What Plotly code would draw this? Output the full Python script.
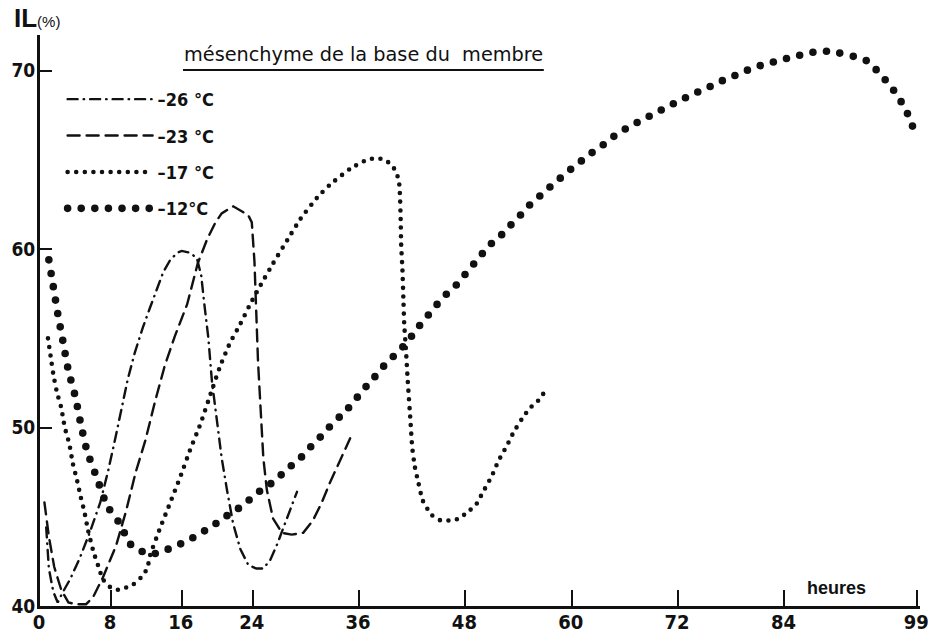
import plotly.graph_objects as go

# ---- data (hours, IL %) ----
hours_26 = [0.7, 1.0, 1.5, 2.0, 2.6, 3.4, 4.5, 5.6, 6.8, 7.7, 8.5, 9.3, 9.9, 10.7, 11.6, 12.4, 13.2, 13.9,
            14.7, 15.5, 16.0, 16.9, 17.7, 18.2, 18.5, 19.0, 19.4, 20.0, 20.5, 21.1, 21.8, 22.6, 23.5, 24.4,
            25.2, 26.0, 26.8, 27.4, 28.2, 29.0]
il_26 = [44.4, 42.1, 40.8, 40.2, 40.8, 41.5, 42.7, 44.1, 45.8, 47.6, 49.4, 51.2, 52.7, 54.2, 55.6, 56.7, 57.8,
         58.7, 59.4, 59.8, 59.9, 59.8, 59.5, 58.5, 57.1, 55.0, 52.6, 50.2, 48.3, 46.5, 44.6, 43.2, 42.3, 42.1,
         42.1, 42.6, 43.5, 44.3, 45.3, 46.4]

hours_23 = [0.5, 1.0, 1.6, 2.4, 3.2, 4.0, 5.2, 6.0, 7.1, 8.6, 9.7, 10.8, 11.9, 13.0, 14.1, 15.2, 16.6, 17.8,
            18.9, 19.8, 20.5, 21.8, 23.5, 23.9, 24.2, 24.4, 24.6, 24.9, 25.2, 25.6, 26.3, 27.3, 28.4, 29.7,
            30.8, 31.8, 32.7, 33.9, 35.0]
il_23 = [45.8, 43.9, 42.2, 40.9, 40.2, 40.1, 40.1, 40.5, 41.6, 43.4, 45.3, 47.5, 49.3, 51.5, 53.5, 55.1, 56.9,
         59.2, 60.6, 61.5, 62.0, 62.4, 61.9, 61.5, 59.3, 56.5, 53.7, 51.0, 48.3, 46.5, 44.9, 44.1, 44.0, 44.1,
         44.8, 45.8, 46.9, 48.2, 49.4]

hours_17 = [0.9, 1.2, 1.5, 1.9, 2.4, 2.8, 3.3, 3.7, 4.2, 4.6, 5.0, 5.4, 6.0, 6.6, 7.1, 7.8, 8.6, 9.5, 10.5,
            11.4, 12.1, 12.4, 13.5, 14.7, 15.8, 16.9, 18.1, 19.4, 20.3, 21.4, 22.6, 23.7, 24.8, 26.3, 27.9,
            29.4, 31.3, 32.7, 35.0, 36.9, 38.0, 38.9, 39.7, 40.2, 40.5, 40.6, 40.7, 40.75, 40.9, 41.0, 41.1,
            41.3, 41.5, 41.8, 42.0, 42.3, 42.7, 43.2, 44.2, 45.2, 46.2, 47.3, 48.3, 49.1, 50.0, 51.0, 51.7,
            52.7, 53.4, 54.4, 55.3, 56.2, 56.8]
il_17 = [55.0, 54.0, 53.0, 52.0, 51.1, 50.0, 49.1, 48.0, 47.0, 46.1, 45.3, 44.3, 43.1, 42.2, 41.5, 41.1, 40.9,
         41.0, 41.2, 41.6, 42.1, 42.8, 44.3, 45.8, 47.2, 48.7, 50.2, 52.1, 53.4, 54.7, 55.8, 56.9, 57.9, 59.2,
         60.5, 61.7, 62.9, 63.6, 64.5, 65.0, 65.1, 65.0, 64.7, 64.3, 63.8, 63.2, 61.7, 60.3, 58.8, 57.3, 55.8,
         54.3, 52.6, 50.4, 48.9, 47.8, 46.9, 45.9, 45.1, 44.8, 44.8, 44.9, 45.3, 45.6, 46.4, 47.3, 48.1, 49.0,
         49.7, 50.5, 51.1, 51.5, 51.9]

hours_12 = [1.0, 1.5, 2.0, 2.6, 3.2, 4.0, 4.6, 5.3, 6.4, 7.6, 9.3, 9.9, 11.3, 12.6, 14.0, 15.5, 16.8, 18.2,
            19.5, 20.9, 22.2, 23.5, 24.7, 25.9, 27.1, 28.2, 29.4, 30.5, 31.5, 32.6, 33.8, 34.8, 35.8, 36.8,
            37.7, 38.7, 39.7, 40.9, 41.9, 42.8, 43.8, 44.8, 45.9, 47.0, 48.0, 49.0, 50.0, 51.1, 52.3, 53.4,
            54.4, 55.5, 56.7, 57.8, 59.0, 60.2, 61.5, 62.8, 64.0, 65.2, 66.7, 68.1, 69.4, 70.8, 72.2, 73.6,
            74.8, 76.3, 77.8, 79.2, 80.7, 82.1, 83.6, 85.2, 86.8, 88.4, 90.1, 91.8, 93.5, 94.8, 95.9, 97.0,
            97.7, 98.3, 98.8]
il_12 = [59.4, 57.9, 56.4, 54.8, 53.2, 51.7, 50.2, 48.7, 47.2, 45.6, 44.4, 43.6, 43.1, 42.9, 43.1, 43.4, 43.7,
         44.1, 44.5, 45.0, 45.4, 45.9, 46.4, 46.8, 47.3, 47.8, 48.3, 48.9, 49.4, 50.0, 50.6, 51.1, 51.7, 52.3,
         52.8, 53.4, 53.9, 54.5, 55.1, 55.7, 56.3, 56.9, 57.5, 58.0, 58.6, 59.2, 59.8, 60.4, 60.9, 61.5, 62.0,
         62.6, 63.1, 63.6, 64.1, 64.6, 65.1, 65.6, 66.0, 66.5, 66.9, 67.3, 67.6, 68.0, 68.3, 68.7, 68.9, 69.3,
         69.6, 69.9, 70.2, 70.4, 70.6, 70.8, 71.0, 71.1, 71.0, 70.8, 70.5, 69.8, 69.2, 68.4, 67.8, 67.1, 66.4]

series_labels = ["–26 °C", "–23 °C", "–17 °C", "–12°C"]
x_ticks = [0, 8, 16, 24, 36, 48, 60, 72, 84, 99]
y_ticks = [40, 50, 60, 70]

INK = "#111111"
NARROW = "DejaVu Sans Condensed, Liberation Sans Narrow, Arial Narrow, Liberation Sans, sans-serif"

series = [
    (hours_26, il_26, dict(width=2.4, dash="10px,6px,0.5px,6px"), "linear"),
    (hours_23, il_23, dict(width=2.4, dash="12px,7px"), "linear"),
    (hours_17, il_17, dict(width=4.6, dash="0px,8.6px"), "spline"),
    (hours_12, il_12, dict(width=7.6, dash="0px,13.6px"), "spline"),
]

fig = go.Figure()
for i, ((xs, ys, ln, shape), name) in enumerate(zip(series, series_labels)):
    fig.add_trace(go.Scatter(
        x=xs, y=ys, mode="lines", name=name, legendgroup=f"g{i}",
        line=dict(color=INK, shape=shape, smoothing=0.6 if shape == "spline" else None, **ln),
        cliponaxis=False, hoverinfo="skip",
    ))

fig.update_layout(
    width=928, height=640,
    margin=dict(l=40, r=8, t=35, b=34, autoexpand=False),
    paper_bgcolor="white", plot_bgcolor="white",
    xaxis=dict(range=[0, 99.3], tickvals=x_ticks, ticktext=[str(t) for t in x_ticks],
               ticks="inside", ticklen=16, tickwidth=2, tickcolor=INK, automargin=False,
               ticklabeloverflow="allow", ticklabelstandoff=-4, ticklabelshift=-1,
               showline=True, linewidth=3, linecolor=INK, showgrid=False, zeroline=False,
               tickfont=dict(family=NARROW, size=20, color=INK, weight="bold")),
    yaxis=dict(range=[40, 72], tickvals=y_ticks, ticktext=[str(t) for t in y_ticks],
               ticks="inside", ticklen=12, tickwidth=2, tickcolor=INK, automargin=False,
               ticklabeloverflow="allow", ticklabelstandoff=-2,
               showline=True, linewidth=3, linecolor=INK, showgrid=False, zeroline=False,
               tickfont=dict(family=NARROW, size=19, color=INK, weight="bold")),
    showlegend=True,
    legend=dict(x=0.0257, y=0.9195, xanchor="left", yanchor="top", bgcolor="rgba(0,0,0,0)",
                itemwidth=85, tracegroupgap=10, traceorder="grouped",
                font=dict(family=NARROW, size=18, color=INK, weight="bold")),
    annotations=[
        dict(text="mésenchyme de la base du\u00a0\u00a0membre", xref="paper", yref="paper",
             x=0.161, y=0.965, xanchor="left", yanchor="middle", showarrow=False,
             font=dict(family="DejaVu Sans", size=19.3, color=INK)),
        dict(text="<b>IL</b><span style='font-size:15px'>(%)</span>", xref="paper", yref="paper",
             x=-0.032, y=1.03, xanchor="left", yanchor="middle", showarrow=False,
             font=dict(family="Liberation Sans", size=26, color=INK)),
        dict(text="heures", xref="paper", yref="paper", x=0.905, y=0.032,
             xanchor="center", yanchor="middle", showarrow=False,
             font=dict(family="Liberation Sans", size=18, color=INK, weight="bold")),
    ],
    shapes=[
        dict(type="line", xref="paper", yref="paper", x0=0.1625, x1=0.5725, y0=0.9387, y1=0.9387,
             line=dict(color=INK, width=2)),
    ],
)

css = ("var s=document.createElement('style');"
       "s.textContent='html,body{margin:0 !important;padding:0 !important;}"
       ".js-line{stroke-linecap:round !important;}';"
       "document.head.appendChild(s);")
fig.write_html("out.html", post_script=css, config={"displayModeBar": False})
